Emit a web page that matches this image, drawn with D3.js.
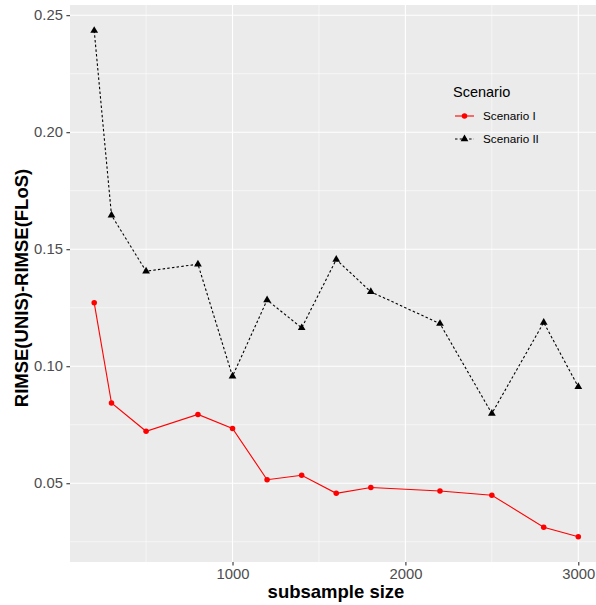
<!DOCTYPE html>
<html>
<head>
<meta charset="utf-8">
<script src="https://cdn.jsdelivr.net/npm/d3@7"></script>
<style>
  html, body { margin: 0; padding: 0; background: #fff; }
  svg { display: block; font-family: "Liberation Sans", Arial, sans-serif; }
</style>
</head>
<body>
<svg id="chart" width="596" height="605"></svg>
<script>
// Subsample sizes and RIMSE differences for each scenario
const sampleSizes = [200, 300, 500, 800, 1000, 1200, 1400, 1600, 1800, 2200, 2500, 2800, 3000];
const scenarioI  = [0.1271, 0.0843, 0.0722, 0.0794, 0.0734, 0.0515, 0.0534, 0.0457, 0.0482, 0.0467, 0.0449, 0.0312, 0.0271];
const scenarioII = [0.2434, 0.1645, 0.1406, 0.1436, 0.0957, 0.1283, 0.1164, 0.1456, 0.1318, 0.1182, 0.0798, 0.1187, 0.0912];
const seriesNames = ["Scenario I", "Scenario II"];
const xTicks = [1000, 2000, 3000];
const xMinor = [500, 1500, 2500];
const yTicks = [0.05, 0.10, 0.15, 0.20, 0.25];
const yMinor = [0.025, 0.075, 0.125, 0.175, 0.225];

const svg = d3.select("#chart");
const panel = { left: 70, top: 5, right: 602.5, bottom: 562 };

const x = d3.scaleLinear().domain([60, 3140]).range([panel.left, panel.right]);
const y = d3.scaleLinear().domain([0.01635, 0.25435]).range([panel.bottom, panel.top]);

// Panel background
svg.append("rect")
  .attr("x", panel.left).attr("y", panel.top)
  .attr("width", panel.right - panel.left).attr("height", panel.bottom - panel.top)
  .attr("fill", "#ebebeb");

const grid = svg.append("g");
grid.selectAll(".ymin").data(yMinor).join("line")
  .attr("x1", panel.left).attr("x2", panel.right)
  .attr("y1", d => y(d)).attr("y2", d => y(d))
  .attr("stroke", "#fff").attr("stroke-width", 0.55);
grid.selectAll(".xmin").data(xMinor).join("line")
  .attr("y1", panel.top).attr("y2", panel.bottom)
  .attr("x1", d => x(d)).attr("x2", d => x(d))
  .attr("stroke", "#fff").attr("stroke-width", 0.55);
grid.selectAll(".ymaj").data(yTicks).join("line")
  .attr("x1", panel.left).attr("x2", panel.right)
  .attr("y1", d => y(d)).attr("y2", d => y(d))
  .attr("stroke", "#fff").attr("stroke-width", 1.1);
grid.selectAll(".xmaj").data(xTicks).join("line")
  .attr("y1", panel.top).attr("y2", panel.bottom)
  .attr("x1", d => x(d)).attr("x2", d => x(d))
  .attr("stroke", "#fff").attr("stroke-width", 1.1);

// Axes
const xAxis = svg.append("g")
  .attr("transform", `translate(0,${panel.bottom})`)
  .call(d3.axisBottom(x).tickValues(xTicks).tickFormat(d3.format("d")).tickSize(3.6).tickPadding(3));
const yAxis = svg.append("g")
  .attr("transform", `translate(${panel.left},0)`)
  .call(d3.axisLeft(y).tickValues(yTicks).tickFormat(d3.format(".2f")).tickSize(3.6).tickPadding(3.5));
[xAxis, yAxis].forEach(a => {
  a.select(".domain").remove();
  a.selectAll(".tick line").attr("stroke", "#333").attr("stroke-width", 1.1);
  a.selectAll(".tick text").attr("fill", "#4d4d4d").style("font-size", "14.8px")
    .style("font-family", "Liberation Sans, Arial, sans-serif");
});

// Axis titles
svg.append("text")
  .attr("x", 336).attr("y", 598)
  .attr("text-anchor", "middle")
  .style("font-size", "18.5px").style("font-weight", "bold")
  .text("subsample size");
svg.append("text")
  .attr("transform", `translate(28,288) rotate(-90)`)
  .attr("text-anchor", "middle")
  .style("font-size", "18.5px").style("font-weight", "bold")
  .text("RIMSE(UNIS)-RIMSE(FLoS)");

// Series
const series = [
  { name: seriesNames[0], values: scenarioI, color: "#ff0000", dash: null, shape: d3.symbolCircle },
  { name: seriesNames[1], values: scenarioII, color: "#000000", dash: "2.5,2.2", shape: d3.symbolTriangle }
];
const line = d3.line().x(d => x(d[0])).y(d => y(d[1]));

series.forEach(s => {
  const pts = sampleSizes.map((n, i) => [n, s.values[i]]);
  svg.append("path").datum(pts)
    .attr("d", line)
    .attr("fill", "none").attr("stroke", s.color).attr("stroke-width", 1.1)
    .attr("stroke-dasharray", s.dash);
  svg.append("g").selectAll("path").data(pts).join("path")
    .attr("transform", d => `translate(${x(d[0])},${y(d[1])})`)
    .attr("d", d3.symbol().type(s.shape).size(s.shape === d3.symbolCircle ? 24 : 26))
    .attr("fill", s.color);
});

// Legend
const legend = svg.append("g").attr("transform", "translate(453,0)");
legend.append("text").attr("x", 0).attr("y", 96.5)
  .style("font-size", "14.5px").attr("fill", "#000").text("Scenario");
series.forEach((s, i) => {
  const cy = 116 + i * 23;
  legend.append("line")
    .attr("x1", 2).attr("x2", 21).attr("y1", cy).attr("y2", cy)
    .attr("stroke", s.color).attr("stroke-width", 1.1)
    .attr("stroke-dasharray", s.dash);
  legend.append("path")
    .attr("transform", `translate(11.5,${cy})`)
    .attr("d", d3.symbol().type(s.shape).size(s.shape === d3.symbolCircle ? 24 : 26))
    .attr("fill", s.color);
  legend.append("text").attr("x", 30).attr("y", cy + 4)
    .style("font-size", "11.7px").attr("fill", "#000").text(s.name);
});
</script>
</body>
</html>
